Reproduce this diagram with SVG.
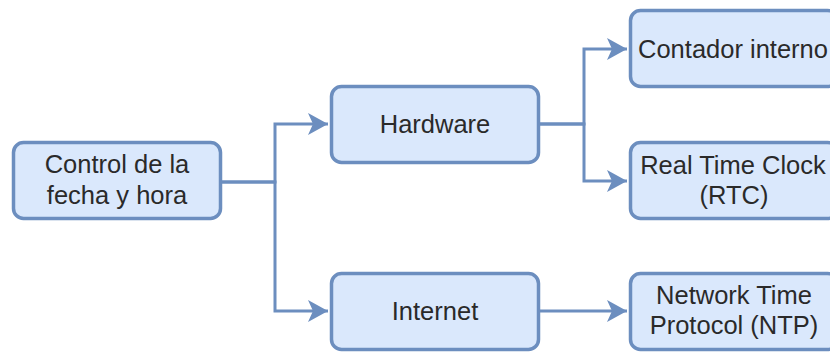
<svg xmlns="http://www.w3.org/2000/svg" width="830" height="352" viewBox="0 0 830 352">
<style>
.box{fill:#dae8fc;stroke:#6c8ebf;stroke-width:3.5}
.t{font-family:"Liberation Sans",Arial,sans-serif;font-size:25.5px;fill:#2a2a2a;text-anchor:middle}
.e{fill:none;stroke:#6c8ebf;stroke-width:3}
</style>
<defs>
<marker id="arr" markerUnits="userSpaceOnUse" markerWidth="24" markerHeight="26" refX="21" refY="12" orient="auto" viewBox="0 0 24 24">
<path d="M21,12 L1,1 L6,12 L1,23 Z" fill="#6c8ebf"/>
</marker>
</defs>
<g id="connectors">
<path class="e" d="M222,182 H275 V124 H328" marker-end="url(#arr)"/>
<path class="e" d="M222,182 H275 V311 H328" marker-end="url(#arr)"/>
<path class="e" d="M540,124 H584 V49 H627" marker-end="url(#arr)"/>
<path class="e" d="M540,124 H584 V181 H627" marker-end="url(#arr)"/>
<path class="e" d="M540,311 H627" marker-end="url(#arr)"/>
</g>
<g id="n-control">
<rect class="box" x="13.5" y="142.5" width="207" height="76" rx="10"/>
<text class="t" x="117" y="173">Control de la</text>
<text class="t" x="117" y="204">fecha y hora</text>
</g>
<g id="n-hardware">
<rect class="box" x="331.5" y="86.5" width="207" height="76" rx="10"/>
<text class="t" x="435" y="133">Hardware</text>
</g>
<g id="n-internet">
<rect class="box" x="331.5" y="273.5" width="207" height="76" rx="10"/>
<text class="t" x="435" y="320">Internet</text>
</g>
<g id="n-contador">
<rect class="box" x="630.5" y="10.5" width="207" height="76" rx="10"/>
<text class="t" x="733" y="58">Contador interno</text>
</g>
<g id="n-rtc">
<rect class="box" x="630.5" y="142.5" width="207" height="76" rx="10"/>
<text class="t" x="733" y="174">Real Time Clock</text>
<text class="t" x="734" y="204">(RTC)</text>
</g>
<g id="n-ntp">
<rect class="box" x="630.5" y="273.5" width="207" height="76" rx="10"/>
<text class="t" x="734" y="304">Network Time</text>
<text class="t" x="734" y="334">Protocol (NTP)</text>
</g>
</svg>
